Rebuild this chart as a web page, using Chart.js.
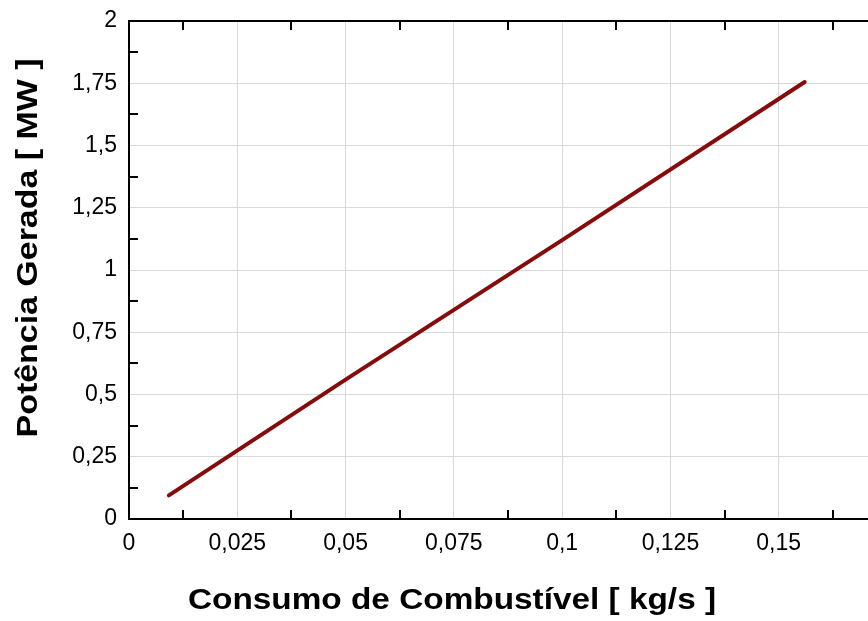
<!DOCTYPE html>
<html>
<head>
<meta charset="utf-8">
<script src="https://cdn.jsdelivr.net/npm/chart.js@4/dist/chart.umd.min.js"></script>
<style>
  html, body { margin: 0; padding: 0; overflow: hidden; background: #fff; width: 868px; height: 621px; }
  #wrap { width: 887px; height: 621px; position: relative; }
</style>
</head>
<body>
<div id="wrap"><canvas id="c"></canvas></div>
<script>
// ---- data ----
const consumo = [0.0092, 0.05, 0.1, 0.156];          // kg/s
const potencia = [0.095, 0.56, 1.12, 1.755];          // MW
const xTickValues = [0, 0.025, 0.05, 0.075, 0.1, 0.125, 0.15];
const xTickLabels = ['0', '0,025', '0,05', '0,075', '0,1', '0,125', '0,15'];
const yTickValues = [0, 0.25, 0.5, 0.75, 1, 1.25, 1.5, 1.75, 2];
const yTickLabels = ['0', '0,25', '0,5', '0,75', '1', '1,25', '1,5', '1,75', '2'];
const xMinorTicks = [0.0125, 0.0375, 0.0625, 0.0875, 0.1125, 0.1375, 0.1625];
const yMinorTicks = [0.125, 0.375, 0.625, 0.875, 1.125, 1.375, 1.625, 1.875];
const xTitle = 'Consumo de Combustível [ kg/s ]';
const yTitle = 'Potência Gerada [ MW ]';

const FONT = "'Liberation Sans', Arial, sans-serif";

const framePlugin = {
  id: 'frame',
  afterDraw(chart) {
    const { ctx, chartArea: a, scales: { x, y } } = chart;
    ctx.save();
    ctx.strokeStyle = '#000';
    ctx.lineWidth = 2;
    ctx.strokeRect(a.left, a.top, a.right - a.left, a.bottom - a.top);
    ctx.beginPath();
    xMinorTicks.forEach(v => {
      const px = Math.round(x.getPixelForValue(v));
      ctx.moveTo(px, a.bottom); ctx.lineTo(px, a.bottom - 9);
      ctx.moveTo(px, a.top); ctx.lineTo(px, a.top + 9);
    });
    yMinorTicks.forEach(v => {
      const py = Math.round(y.getPixelForValue(v));
      ctx.moveTo(a.left, py); ctx.lineTo(a.left + 9, py);
      ctx.moveTo(a.right, py); ctx.lineTo(a.right - 9, py);
    });
    ctx.stroke();

    ctx.fillStyle = '#000';
    ctx.font = 'bold 29px ' + FONT;
    ctx.textAlign = 'center';
    ctx.textBaseline = 'alphabetic';
    // x title
    ctx.save();
    ctx.translate(452, 609);
    ctx.scale(1.15, 1);
    ctx.fillText(xTitle, 0, 0);
    ctx.restore();
    // y title
    ctx.save();
    ctx.translate(37, 248);
    ctx.rotate(-Math.PI / 2);
    ctx.scale(1.17, 1);
    ctx.fillText(yTitle, 0, 0);
    ctx.restore();
    ctx.restore();
  }
};

new Chart(document.getElementById('c'), {
  type: 'scatter',
  data: {
    datasets: [{
      data: consumo.map((v, i) => ({ x: v, y: potencia[i] })),
      showLine: true,
      borderColor: '#860b0b',
      borderWidth: 4,
      borderCapStyle: 'round',
      pointRadius: 0,
      tension: 0
    }]
  },
  options: {
    responsive: true,
    maintainAspectRatio: false,
    animation: false,
    layout: { padding: { top: 21, left: 0, right: 0, bottom: 0 } },
    plugins: { legend: { display: false }, tooltip: { enabled: false } },
    scales: {
      x: {
        type: 'linear', min: 0, max: 0.175,
        afterBuildTicks: s => { s.ticks = xTickValues.map(v => ({ value: v })); },
        afterFit: s => { s.height = 102; s.paddingLeft = 0; s.paddingRight = 0; },
        ticks: {
          callback: (v, i) => xTickLabels[i],
          font: { family: FONT, size: 23 }, color: '#000', padding: 11,
          maxRotation: 0, autoSkip: false
        },
        grid: { color: '#d9d9d9', lineWidth: 1, drawTicks: false },
        border: { display: false }
      },
      y: {
        type: 'linear', min: 0, max: 2,
        afterBuildTicks: s => { s.ticks = yTickValues.map(v => ({ value: v })); },
        afterFit: s => { s.width = 129; s.paddingTop = 0; s.paddingBottom = 0; },
        ticks: {
          callback: (v, i) => yTickLabels[i],
          font: { family: FONT, size: 23 }, color: '#000', padding: 12,
          autoSkip: false
        },
        grid: { color: '#d9d9d9', lineWidth: 1, drawTicks: false },
        border: { display: false }
      }
    }
  },
  plugins: [framePlugin]
});
</script>
</body>
</html>
